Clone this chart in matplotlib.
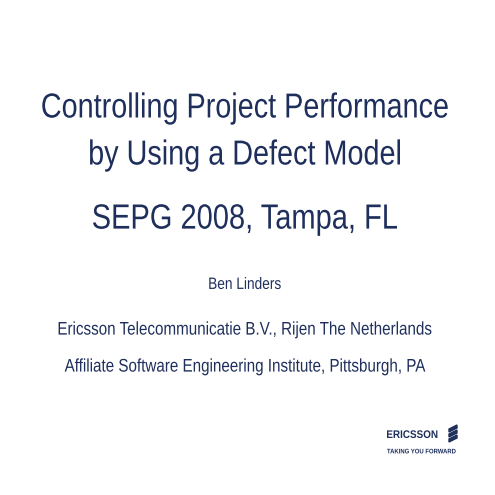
import matplotlib.pyplot as plt
from matplotlib.patches import Polygon, PathPatch
from matplotlib.textpath import TextPath
from matplotlib.font_manager import FontProperties
from matplotlib.transforms import Affine2D

navy = '#1f2f5c'
prop = FontProperties(family='Liberation Sans')
bold = FontProperties(family='Liberation Sans', weight='bold')

# slide text lines: text, vertical centre (px from top), em size (px)
lines = ['Controlling Project Performance', 'by Using a Defect Model',
         'SEPG 2008, Tampa, FL', 'Ben Linders',
         'Ericsson Telecommunicatie B.V., Rijen The Netherlands',
         'Affiliate Software Engineering Institute, Pittsburgh, PA']
ys = [105, 152, 216, 283, 328, 365]
sizes = [34.7, 34.7, 35, 16.5, 18.3, 18.3]

fig = plt.figure(figsize=(4.95, 4.95), dpi=100)
ax = fig.add_axes([0, 0, 1, 1])
ax.set_xlim(0, 495)
ax.set_ylim(495, 0)
ax.axis('off')


def narrow_text(x, y, s, size, fp, sx=0.83, ha='center'):
    tp = TextPath((0, 0), s, size=size, prop=fp)
    ext = tp.get_extents()
    w = ext.width * sx
    cap = size * 0.72
    x0 = x - w / 2 if ha == 'center' else x
    tr = Affine2D().translate(-ext.x0, 0).scale(sx, -1).translate(x0, y + cap / 2)
    ax.add_patch(PathPatch(tr.transform_path(tp), color=navy, lw=0))


for t, y, s in zip(lines, ys, sizes):
    narrow_text(245, y, t, s, prop)

# logo
narrow_text(387, 434, 'ERICSSON', 11, bold, sx=0.9, ha='left')
narrow_text(387, 451, 'TAKING YOU FORWARD', 6.6, bold, sx=0.9, ha='left')
for dy in [0, 5, 10]:
    ax.add_patch(Polygon([(449, 429 + dy), (457, 425 + dy), (457, 428 + dy), (449, 432 + dy)],
                         closed=True, color=navy))

fig.savefig('out.png', dpi=100)
